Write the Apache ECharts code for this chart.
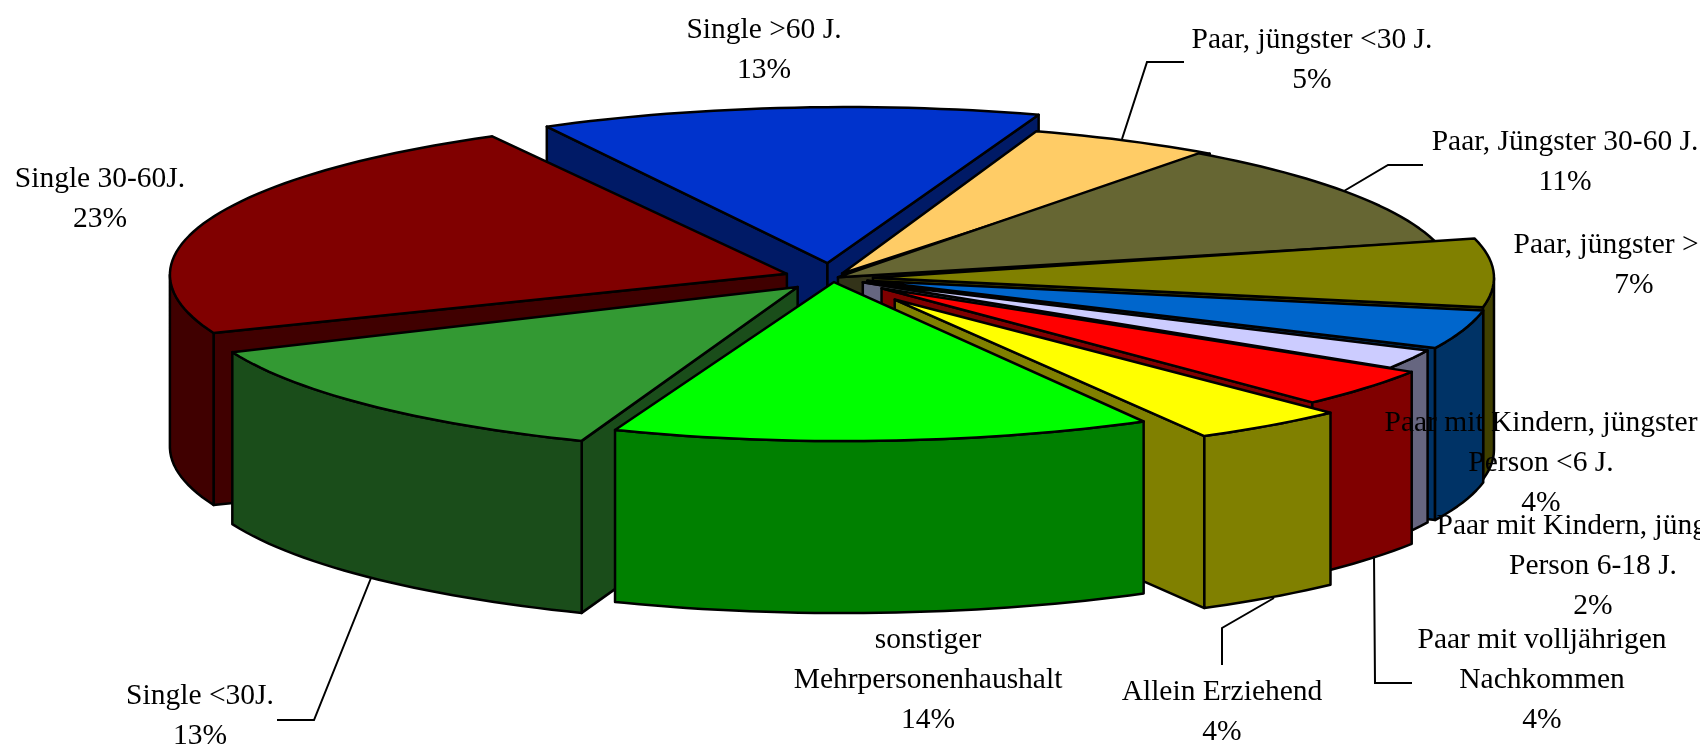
<!DOCTYPE html>
<html><head><meta charset="utf-8">
<style>html,body{margin:0;padding:0;background:#fff;overflow:hidden}#c{width:1700px;height:750px}</style>
<script src="https://cdn.jsdelivr.net/npm/echarts@6/dist/echarts.min.js"></script>
</head><body><div id="c"></div>
<script>
// ---- data ----
const categories = [
  'Single >60 J.', 'Paar, jüngster <30 J.', 'Paar, Jüngster 30-60 J.', 'Paar, jüngster >60 J.',
  'Paar mit Kindern, jüngster\nPerson <6 J.', 'Paar mit Kindern, jüngster\nPerson 6-18 J.',
  'Paar mit volljährigen\nNachkommen', 'Allein Erziehend', 'sonstiger\nMehrpersonenhaushalt',
  'Single <30J.', 'Single 30-60J.'
];
const shares = [13, 5, 11, 7, 4, 2, 4, 4, 14, 13, 23];
// ---- style ----
const topColors  = ['#0033CC','#FFCC66','#666633','#808000','#0066CC','#CCCCFF','#FF0000','#FFFF00','#00FF00','#339933','#800000'];
const wallColors = ['#001A66','#806633','#333319','#404000','#003366','#666680','#800000','#808000','#008000','#1A4D1A','#400000'];
// slice explosion distance (px along the bisector, before flattening)
const explode = [59, 20, 6, 40, 36, 34, 63, 105, 16, 50, 49];
// perspective correction of each slice's rim relative to its apex (px)
const rimDx = [19, 2, -5, -1, 5, 2, 5, 10, 10, 13, 5];
const rimDy = [2, 8, 4, 0, 0, 1, -1, -2, 1, 7, 1];
// ---- layout ----
const CX = 833, CY = 278, RX = 622, RY = 158, DEPTH = 172, FIRST_END = 18;
const FONT = '29.5px "Liberation Serif"', LINE = 40;
// label centres (x, y of the first line's middle)
const labelPos = [
  [764,30],[1312,40],[1565,142],[1634,245],[1541,423],[1593,526],[1542,640],[1222,692],[928,640],[200,696],[100,179]
];
// elbow leader lines; null = none
const leaders = [
  null,
  [[1122,139],[1147,62],[1184,62]],
  [[1344,191],[1388,165],[1423,165]],
  null, null, null,
  [[1374,556],[1375,683],[1412,683]],
  [[1274,598],[1222,628],[1222,665]],
  null,
  [[371,578],[314,720],[277,720]],
  null
];

const total = shares.reduce((a, b) => a + b, 0);
const startAngle = FIRST_END - shares[0] / total * 360;
const rad = d => d * Math.PI / 180;
const slices = [];
shares.reduce((acc, v, i) => {
  const a0 = startAngle + acc / total * 360, a1 = startAngle + (acc + v) / total * 360;
  const mid = rad((a0 + a1) / 2);
  slices[i] = { a0, a1, idx: i, ox: CX + explode[i] * Math.sin(mid), oy: CY - explode[i] * Math.cos(mid) * RY / RX, rank: -Math.cos(mid) };
  return acc + v;
}, 0);
const order = slices.map((s, i) => i).sort((p, q) => slices[p].rank - slices[q].rank);

function rim(s, d) { return [s.ox + rimDx[s.idx] + RX * Math.sin(rad(d)), s.oy + rimDy[s.idx] - RY * Math.cos(rad(d))]; }
function down(p) { return [p[0], p[1] + DEPTH]; }
function poly(points, fill, z2) {
  return { type: 'polygon', z2, shape: { points },
    style: { fill, stroke: '#000', lineWidth: 2.5, lineJoin: 'round' } };
}

function renderItem(params, api) {
  const i = api.value(0), v = api.value(1);
  const s = slices[i], base = order.indexOf(i) * 10 + 1, kids = [];
  const apex = [s.ox, s.oy];
  const arc = (from, to) => { const p = []; for (let d = from; d < to; d += 1.5) p.push(rim(s, d)); p.push(rim(s, to)); return p; };
  // radial side walls
  if (Math.sin(rad(s.a0)) < 0) { const c = rim(s, s.a0); kids.push(poly([apex, c, down(c), down(apex)], wallColors[i], base)); }
  if (Math.sin(rad(s.a1)) > 0) { const c = rim(s, s.a1); kids.push(poly([apex, c, down(c), down(apex)], wallColors[i], base)); }
  // outer wall: only the part turned towards the viewer (90°..270°)
  for (let k = 0; k < 2; k++) {
    const from = Math.max(s.a0, 90 + 360 * k), to = Math.min(s.a1, 270 + 360 * k);
    if (from < to) { const a = arc(from, to); kids.push(poly(a.concat(a.slice().reverse().map(down)), wallColors[i], base + 1)); }
  }
  // top face
  kids.push(poly([apex].concat(arc(s.a0, s.a1)), topColors[i], base + 2));
  // leader
  if (leaders[i]) kids.push({ type: 'polyline', z2: 500, shape: { points: leaders[i] }, style: { fill: 'none', stroke: '#000', lineWidth: 2 } });
  // label
  kids.push({ type: 'text', z2: 600, x: labelPos[i][0], y: labelPos[i][1] - LINE / 2,
    style: { text: categories[i] + '\n' + v + '%', font: FONT, fill: '#000', align: 'center', verticalAlign: 'top', lineHeight: LINE } });
  return { type: 'group', children: kids };
}

const chart = echarts.init(document.getElementById('c'), null, { renderer: 'canvas', width: 1700, height: 750 });
chart.setOption({
  backgroundColor: '#fff', animation: false,
  series: [{ type: 'custom', coordinateSystem: 'none', silent: true, clip: false,
    data: shares.map((v, i) => [i, v]), renderItem, encode: { value: 1 } }]
});
</script></body></html>
